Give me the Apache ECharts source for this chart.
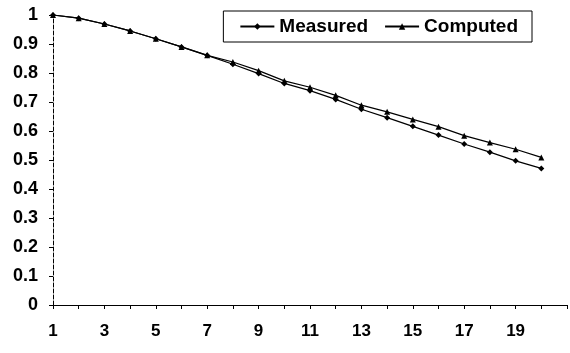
<!DOCTYPE html>
<html>
<head>
<meta charset="utf-8" />
<title>Measured vs Computed</title>
<style>
  html, body { margin: 0; padding: 0; background: #fff; }
  #chart { width: 570px; height: 353px; }
</style>
<script src="https://cdn.jsdelivr.net/npm/echarts@6/dist/echarts.min.js"></script>
</head>
<body>
<div id="chart"></div>
<script>
// x positions 1..20
var steps = [1, 2, 3, 4, 5, 6, 7, 8, 9, 10, 11, 12, 13, 14, 15, 16, 17, 18, 19, 20];
var measured = [1.0, 0.989, 0.969, 0.945, 0.918, 0.890, 0.861, 0.830, 0.798, 0.764,
                0.739, 0.709, 0.675, 0.646, 0.616, 0.586, 0.555, 0.527, 0.497, 0.471];
var computed = [1.0, 0.989, 0.969, 0.945, 0.918, 0.890, 0.861, 0.838, 0.808, 0.773,
                0.751, 0.723, 0.689, 0.666, 0.640, 0.615, 0.584, 0.560, 0.537, 0.509];

function pairs(vals) {
  return steps.map(function (s, i) { return [s, vals[i]]; });
}

var chart = echarts.init(document.getElementById('chart'));
var font = 'Arial, "Liberation Sans", sans-serif';

chart.setOption({
  animation: false,
  backgroundColor: '#fff',
  grid: { left: 53, right: 0, top: 15, bottom: 48 },
  legend: {
    right: 38,
    top: 11,
    itemWidth: 34,
    itemHeight: 8,
    itemGap: 16,
    padding: [6, 14, 6, 16],
    borderColor: '#000',
    borderWidth: 1,
    textStyle: { fontFamily: font, fontSize: 19, fontWeight: 'bold', color: '#000' },
    data: ['Measured', 'Computed']
  },
  xAxis: {
    type: 'value',
    min: 1,
    max: 21,
    interval: 1,
    splitLine: { show: false },
    axisLine: { lineStyle: { color: '#000', width: 1 } },
    axisTick: { length: 4, lineStyle: { color: '#000' } },
    axisLabel: {
      color: '#000',
      fontFamily: font,
      fontSize: 17,
      fontWeight: 'bold',
      margin: 18,
      formatter: function (v) { return (v % 2 === 1 && v < 21) ? String(v) : ''; }
    }
  },
  yAxis: {
    type: 'value',
    min: 0,
    max: 1,
    interval: 0.1,
    splitLine: { show: false },
    axisLine: { show: true, lineStyle: { color: '#000', width: 1, type: 'dashed' } },
    axisTick: { show: true, length: 4, lineStyle: { color: '#000' } },
    axisLabel: {
      color: '#000',
      fontFamily: font,
      fontSize: 18,
      fontWeight: 'bold',
      margin: 15,
      formatter: function (v) { return String(Math.round(v * 10) / 10); }
    }
  },
  series: [
    {
      name: 'Measured',
      type: 'line',
      data: pairs(measured),
      symbol: 'diamond',
      symbolSize: 6,
      itemStyle: { color: '#000' },
      lineStyle: { color: '#000', width: 1.2 }
    },
    {
      name: 'Computed',
      type: 'line',
      data: pairs(computed),
      symbol: 'triangle',
      symbolSize: 6,
      itemStyle: { color: '#000' },
      lineStyle: { color: '#000', width: 1.2 }
    }
  ]
});

window.onresize = function () {
  chart.resize();
};
</script>
</body>
</html>
